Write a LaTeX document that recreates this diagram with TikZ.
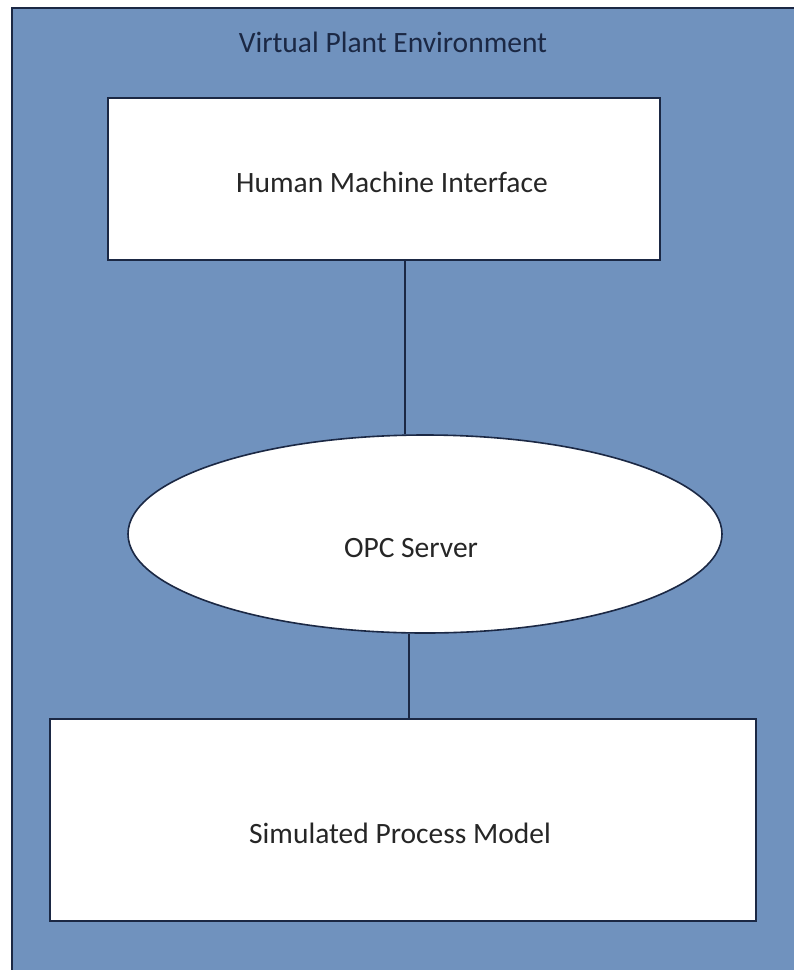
\documentclass[tikz,border=0pt]{standalone}
\usepackage{fontspec}
\setmainfont{Carlito}
\usetikzlibrary{shapes.geometric}
\definecolor{plantblue}{RGB}{112,146,190}
\definecolor{edgenavy}{RGB}{27,40,68}
\tikzset{
	block/.style={draw=edgenavy, line width=1.6pt, fill=white, inner sep=0pt},
	link/.style={draw=edgenavy, line width=1.6pt},
}

\begin{document}
\begin{tikzpicture}[x=1pt, y=-1pt, font=\fontsize{29.5}{35}\selectfont]
			%%%%% START %%%%%
			\useasboundingbox (0, 0) rectangle (794, 970);
			
			\draw[fill=plantblue, draw=edgenavy, line width=1.6pt] (12, 8) rectangle (810, 990);
			\node[text=edgenavy] (title) at (393, 42) {Virtual Plant Environment};
			
			\node[block, minimum width=552pt, minimum height=162pt] (hmi) at (384, 179) {};
			\node[text=black!85] (hmitext) at (392, 182) {Human Machine Interface};
			
			\node[block, ellipse, minimum width=594pt, minimum height=198pt] (opc) at (425, 534) {};
			\node[text=black!85] (opctext) at (411, 548) {OPC Server};
			
			\node[block, minimum width=706pt, minimum height=202pt] (spm) at (403, 820) {};
			\node[text=black!85] (spmtext) at (400, 833) {Simulated Process Model};
			
			\draw[link] (hmi.south -| 405, 0) -- (opc.north -| 405, 0);
			\draw[link] (opc.south -| 409, 0) -- (spm.north -| 409, 0);
			%%%%% END %%%%%
		\end{tikzpicture}
\end{document}
